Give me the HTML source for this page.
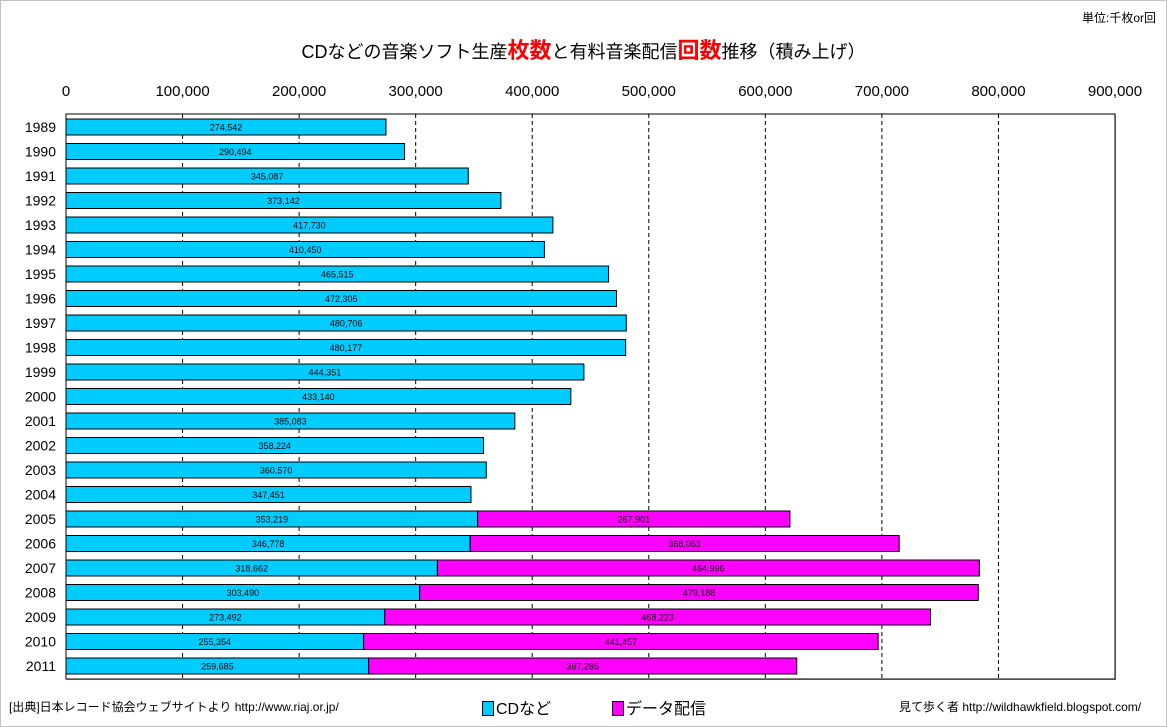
<!DOCTYPE html>
<html><head><meta charset="utf-8"><style>
body{margin:0;background:#fff;}
#wrap{position:relative;width:1165px;height:725px;border:1px solid #c0c0c0;font-family:"Liberation Sans","Noto Sans CJK JP",sans-serif;overflow:hidden;}
.t{position:absolute;white-space:nowrap;color:#000;}
</style></head><body>
<div id="wrap">
<div class="t" style="right:10px;top:8px;font-size:12px;">単位:千枚or回</div>
<div class="t" style="left:0;width:1165px;text-align:center;top:32px;font-size:18px;">CDなどの音楽ソフト生産<span style="color:#f00;font-weight:bold;font-size:22px;">枚数</span>と有料音楽配信<span style="color:#f00;font-weight:bold;font-size:22px;">回数</span>推移（積み上げ）</div>
<svg id="chart" width="1165" height="725" style="position:absolute;left:0;top:0;"></svg>
<div class="t" style="left:8px;top:697px;font-size:12px;">[出典]日本レコード協会ウェブサイトより http://www.riaj.or.jp/</div>
<div class="t" style="left:481px;top:694px;font-size:16px;"><span style="display:inline-block;width:10px;height:13px;background:#00ccff;border:1px solid #000;vertical-align:-2px;margin-right:2px;"></span>CDなど</div>
<div class="t" style="left:611px;top:694px;font-size:16px;"><span style="display:inline-block;width:10px;height:13px;background:#ff00ff;border:1px solid #000;vertical-align:-2px;margin-right:2px;"></span>データ配信</div>
<div class="t" style="left:898px;top:697px;font-size:12px;">見て歩く者 http://wildhawkfield.blogspot.com/</div>
</div>
<script>
const years=["1989","1990","1991","1992","1993","1994","1995","1996","1997","1998","1999","2000","2001","2002","2003","2004","2005","2006","2007","2008","2009","2010","2011"];
const cdValues=[274542,290494,345087,373142,417730,410450,465515,472305,480706,480177,444351,433140,385083,358224,360570,347451,353219,346778,318662,303490,273492,255354,259685];
const dlValues=[0,0,0,0,0,0,0,0,0,0,0,0,0,0,0,0,267901,368063,464996,479188,468223,441457,367285];
const tickValues=[0,100000,200000,300000,400000,500000,600000,700000,800000,900000];
const svg=document.getElementById('chart');
const NS='http://www.w3.org/2000/svg';
const x0=65,x1=1114,top0=113,bot=678,xmax=900000;
const xs=v=>x0+(v/xmax)*(x1-x0);
const rowY=i=>118+i*24.5;
const fmt=v=>v.toLocaleString('en-US');
function mk(tag,attrs){const e=document.createElementNS(NS,tag);for(const k in attrs)e.setAttribute(k,attrs[k]);svg.appendChild(e);return e;}
let e=mk('rect',{x:x0+1,y:top0+1,width:x1-x0,height:bot-top0,fill:'#a0a0a0'});


e=mk('rect',{x:x0,y:top0,width:x1-x0,height:bot-top0,fill:'#fff',stroke:'#000','stroke-width':1});


tickValues.forEach((v,i)=>{
  if(i>0&&i<tickValues.length-1){
    const l=mk('line',{x1:xs(v),x2:xs(v),y1:top0,y2:bot,stroke:'#000','stroke-dasharray':'4,3'});
    
    
  }
  const t=mk('text',{x:xs(v),y:95,'text-anchor':'middle','font-size':15,'font-family':'Liberation Sans, sans-serif'});
  t.textContent=fmt(v);
  
  
});
years.forEach((yr,i)=>{
  const y=rowY(i);
  const t=mk('text',{x:55,y:y+13,'text-anchor':'end','font-size':14,'font-family':'Liberation Sans, sans-serif'});
  t.textContent=yr;
  
  
  const r=mk('rect',{x:x0,y:y,width:xs(cdValues[i])-x0,height:16,fill:'#00ccff',stroke:'#000','stroke-width':1});
  
  
  const l=mk('text',{x:(x0+xs(cdValues[i]))/2,y:y+11.5,'text-anchor':'middle','font-size':9,'font-family':'Liberation Sans, sans-serif'});
  l.textContent=fmt(cdValues[i]);
  
  
  if(dlValues[i]>0){
    const a=xs(cdValues[i]),b=xs(cdValues[i]+dlValues[i]);
    const r2=mk('rect',{x:a,y:y,width:b-a,height:16,fill:'#ff00ff',stroke:'#000','stroke-width':1});
    
    
    const l2=mk('text',{x:(a+b)/2,y:y+11.5,'text-anchor':'middle','font-size':9,'font-family':'Liberation Sans, sans-serif'});
    l2.textContent=fmt(dlValues[i]);
    
    
  }
});
</script>
</body></html>
